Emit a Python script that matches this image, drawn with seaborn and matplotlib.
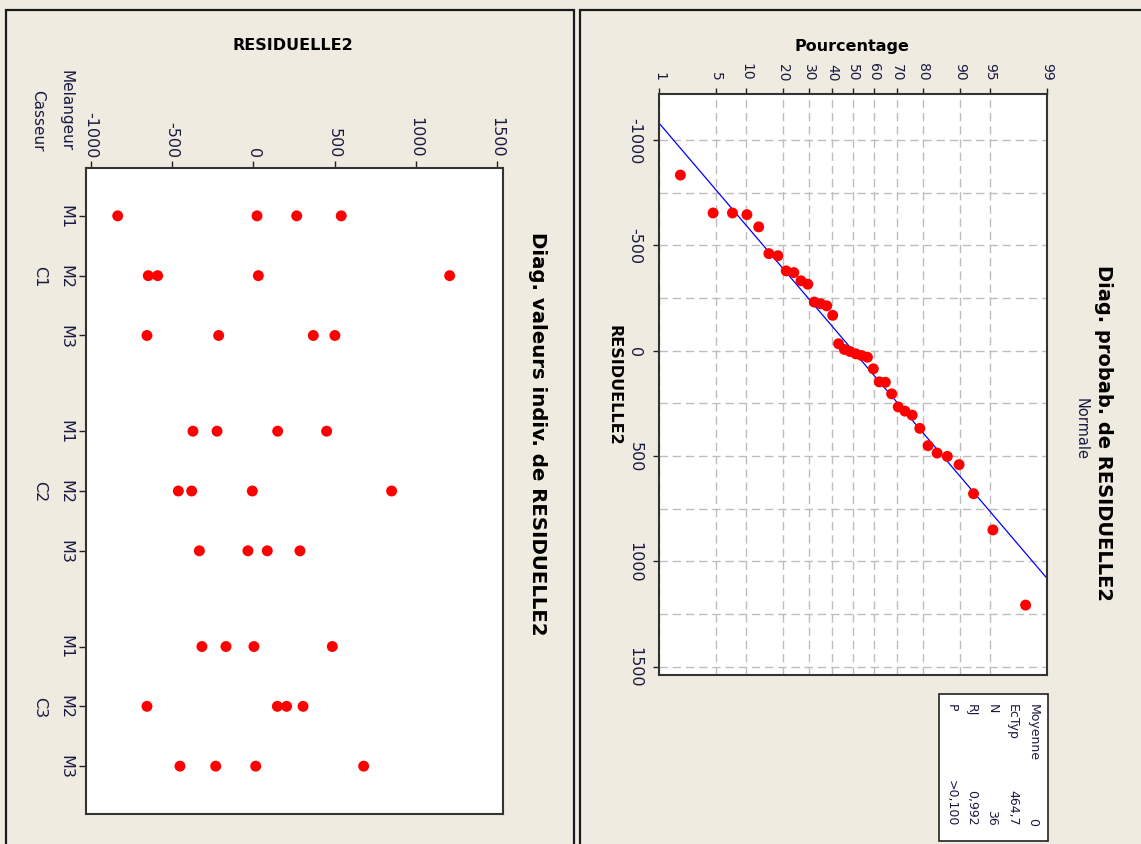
import numpy as np
import pandas as pd
import matplotlib
matplotlib.use("Agg")
import matplotlib.pyplot as plt
import seaborn as sns
from matplotlib.patches import Rectangle
from matplotlib.ticker import MultipleLocator, FixedLocator
from matplotlib.transforms import blended_transform_factory
from statistics import NormalDist

# ---------------- data ----------------
casseurs = ["C1", "C2", "C3"]
melangeurs = ["M1", "M2", "M3"]
res_C1_M1 = [-834, 23, 267, 541]
res_C1_M2 = [-646, -588, 31, 1208]
res_C1_M3 = [-654, -213, 369, 502]
res_C2_M1 = [-371, -223, 150, 451]
res_C2_M2 = [-461, -379, -6, 851]
res_C2_M3 = [-332, -33, 86, 287]
res_C3_M1 = [-316, -168, 4, 486]
res_C3_M2 = [-654, 148, 205, 306]
res_C3_M3 = [-451, -231, 15, 679]
groups = [[res_C1_M1, res_C1_M2, res_C1_M3],
          [res_C2_M1, res_C2_M2, res_C2_M3],
          [res_C3_M1, res_C3_M2, res_C3_M3]]

resid_ticks = [-1000, -500, 0, 500, 1000, 1500]
pct_ticks = [1, 5, 10, 20, 30, 40, 50, 60, 70, 80, 90, 95, 99]

stat_labels = ["Moyenne", "EcTyp", "N", "RJ", "P"]
stat_values = ["0", "464,7", "36", "0,992", ">0,100"]
MEAN = 0.0
STDEV = 464.7

# ---------------- style ----------------
BG = "#EFEBE1"
TXT = "#1a1a40"
RED = "#FF0000"
BLUE = "#0000FF"
GRID = "#BDBDBD"

sns.set_theme(style="ticks")
plt.rcParams["font.family"] = ["DejaVu Sans"]

W, H = 1141, 845
fig = plt.figure(figsize=(W / 100, H / 100), dpi=100, facecolor=BG)


def fx(px):
    return px / W


def fy(py):
    return 1 - py / H


# panel borders
for x0, x1 in [(6, 574), (580, 1160)]:
    fig.add_artist(Rectangle((fx(x0), fy(860)), fx(x1) - fx(x0), fy(11) - fy(860),
                             transform=fig.transFigure, fill=False, lw=1.6,
                             ec="#1a1a1a", zorder=0))

# ---------------- left panel: individual values ----------------
rows = []
tick_pos, tick_lab, grp_center = [], [], []
for gi, c in enumerate(casseurs):
    ps = []
    for mi, m in enumerate(melangeurs):
        p = gi * 3.6 + mi
        ps.append(p)
        tick_pos.append(p)
        tick_lab.append(m)
        for v in groups[gi][mi]:
            rows.append({"Casseur": c, "Melangeur": m, "pos": p, "res": v})
    grp_center.append(np.mean(ps))
df = pd.DataFrame(rows)

axL = fig.add_axes([fx(86), fy(815), (503 - 86) / W, (815 - 169) / H])
axL.set_facecolor("white")
sns.scatterplot(data=df, x="res", y="pos", color=RED, s=62, edgecolor="none",
                ax=axL, legend=False, zorder=3)
axL.set_xlim(-1029, 1536)
axL.set_ylim(10.0, -0.8)
axL.set_xlabel("")
axL.set_ylabel("")
axL.xaxis.tick_top()
axL.set_xticks(resid_ticks)
axL.set_xticklabels([str(t) for t in resid_ticks], rotation=270)
axL.set_yticks(tick_pos)
axL.set_yticklabels(tick_lab, rotation=270, va="center")
axL.tick_params(axis="x", top=True, bottom=False, labeltop=True, labelbottom=False,
                length=5, width=1, color="#222222", labelsize=11.5, labelcolor=TXT, pad=3)
axL.tick_params(axis="y", left=True, length=5, width=1, color="#222222",
                labelsize=11.5, labelcolor=TXT, pad=4)
for s in axL.spines.values():
    s.set_linewidth(1.5)
    s.set_color("#333333")

trL = blended_transform_factory(fig.transFigure, axL.transData)
for c, yc in zip(casseurs, grp_center):
    axL.text(fx(40), yc, c, transform=trL, rotation=270, ha="center", va="center",
             fontsize=11.5, color=TXT)
fig.text(fx(66), fy(151), "Melangeur", rotation=270, ha="center", va="bottom",
         fontsize=11, color=TXT)
fig.text(fx(38), fy(151), "Casseur", rotation=270, ha="center", va="bottom",
         fontsize=11, color=TXT)
fig.text(fx(293), fy(46), "RESIDUELLE2", ha="center", va="center",
         fontsize=11.5, fontweight="bold", color="black")
fig.text(fx(538), fy(434), "Diag. valeurs indiv. de RESIDUELLE2", rotation=270,
         ha="center", va="center", fontsize=14.2, fontweight="bold", color="black")

# ---------------- right panel: normal probability plot ----------------
nd = NormalDist()


def fwd(p):
    p = np.clip(np.asarray(p, dtype=float) / 100.0, 1e-9, 1 - 1e-9)
    return np.vectorize(nd.inv_cdf, otypes=[float])(p)


def inv(z):
    z = np.asarray(z, dtype=float)
    return np.vectorize(nd.cdf, otypes=[float])(z) * 100.0


all_res = np.sort(df["res"].to_numpy(dtype=float))
n = len(all_res)
ranks = np.arange(1, n + 1)
pp = (ranks - 0.3) / (n + 0.4) * 100.0
prob_df = pd.DataFrame({"pct": pp, "res": all_res})
line_df = pd.DataFrame({"pct": [1.0, 99.0],
                        "res": [MEAN + STDEV * nd.inv_cdf(0.01),
                                MEAN + STDEV * nd.inv_cdf(0.99)]})

axR = fig.add_axes([fx(659), fy(676), (1047 - 659) / W, (676 - 95) / H])
axR.set_facecolor("white")
axR.set_xscale("function", functions=(fwd, inv))
sns.lineplot(data=line_df, x="pct", y="res", color=BLUE, lw=0.9, ax=axR,
             legend=False, zorder=2)
sns.scatterplot(data=prob_df, x="pct", y="res", color=RED, s=62, edgecolor="none",
                ax=axR, legend=False, zorder=3)
axR.set_xlim(1, 99)
axR.set_ylim(1540, -1219)
axR.set_xlabel("")
axR.set_ylabel("")
axR.xaxis.tick_top()
axR.xaxis.set_major_locator(FixedLocator(pct_ticks))
axR.set_xticklabels([str(t) for t in pct_ticks], rotation=270)
axR.xaxis.set_minor_locator(FixedLocator([]))
axR.yaxis.set_major_locator(FixedLocator(resid_ticks))
axR.set_yticklabels([str(t) for t in resid_ticks], rotation=270, va="center")
axR.yaxis.set_minor_locator(MultipleLocator(250))
axR.grid(True, axis="x", which="major", ls=(0, (6, 3.5)), color=GRID, lw=1)
axR.grid(True, axis="y", which="both", ls=(0, (6, 3.5)), color=GRID, lw=1)
axR.tick_params(axis="x", top=True, bottom=False, labeltop=True, labelbottom=False,
                length=4, width=1, color="#222222", labelsize=10, labelcolor=TXT, pad=6)
axR.tick_params(axis="y", which="major", left=True, length=4, width=1, color="#222222",
                labelsize=11.5, labelcolor=TXT, pad=8)
axR.tick_params(axis="y", which="minor", length=0)
for s in axR.spines.values():
    s.set_linewidth(1.5)
    s.set_color("#333333")

fig.text(fx(852), fy(47), "Pourcentage", ha="center", va="center",
         fontsize=11.5, fontweight="bold", color="black")
fig.text(fx(614), fy(385), "RESIDUELLE2", rotation=270, ha="center", va="center",
         fontsize=11.5, fontweight="bold", color="black")
fig.text(fx(1104), fy(433), "Diag. probab. de RESIDUELLE2", rotation=270,
         ha="center", va="center", fontsize=14, fontweight="bold", color="black")
fig.text(fx(1081), fy(429), "Normale", rotation=270, ha="center", va="center",
         fontsize=10.5, color=TXT)

# stats box
fig.add_artist(Rectangle((fx(939), fy(842)), (1048 - 939) / W, (842 - 695) / H,
                         transform=fig.transFigure, facecolor="white",
                         edgecolor="#222222", lw=1.2, zorder=1))
for i, (lab, val) in enumerate(zip(stat_labels, stat_values)):
    xc = 1033 - i * 20.5
    fig.text(fx(xc), fy(704), lab, rotation=270, ha="center", va="top",
             fontsize=9, color=TXT, zorder=2)
    fig.text(fx(xc), fy(826), val, rotation=270, ha="center", va="bottom",
             fontsize=9, color=TXT, zorder=2)

fig.savefig("out.png", dpi=100, facecolor=BG)
